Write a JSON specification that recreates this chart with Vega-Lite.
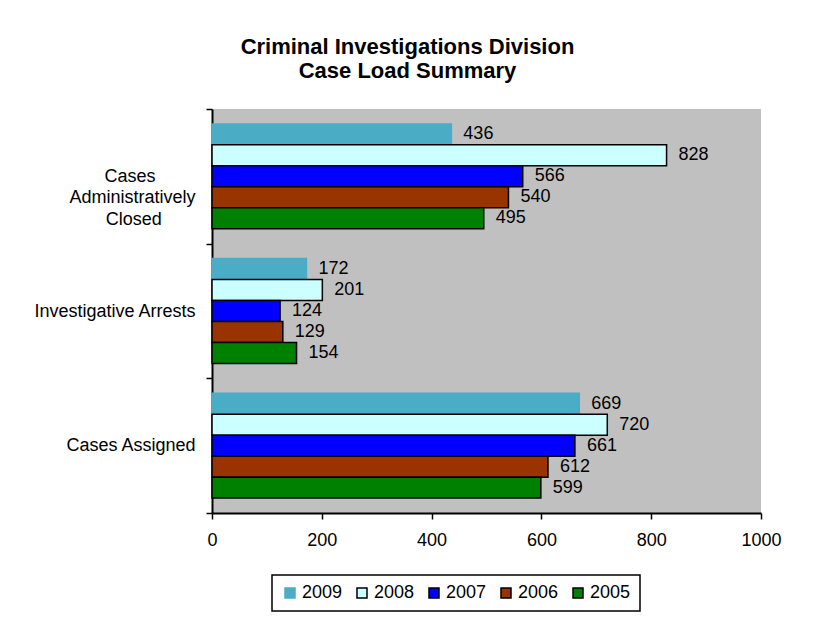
{
  "$schema": "https://vega.github.io/schema/vega-lite/v6.json",
  "autosize": {"type": "none"},
  "padding": {"left": 212, "top": 109, "right": 73, "bottom": 130},
  "width": 549,
  "height": 404,
  "background": "white",
  "title": {
    "text": ["Criminal Investigations Division", "Case Load Summary"],
    "font": "Liberation Sans",
    "fontSize": 22,
    "fontWeight": "bold",
    "lineHeight": 24,
    "anchor": "middle",
    "dx": -79,
    "offset": 17,
    "color": "black"
  },
  "data": {
    "values": [
      {"category": "Cases Administratively Closed", "year": "2009", "value": 436},
      {"category": "Cases Administratively Closed", "year": "2008", "value": 828},
      {"category": "Cases Administratively Closed", "year": "2007", "value": 566},
      {"category": "Cases Administratively Closed", "year": "2006", "value": 540},
      {"category": "Cases Administratively Closed", "year": "2005", "value": 495},
      {"category": "Investigative Arrests", "year": "2009", "value": 172},
      {"category": "Investigative Arrests", "year": "2008", "value": 201},
      {"category": "Investigative Arrests", "year": "2007", "value": 124},
      {"category": "Investigative Arrests", "year": "2006", "value": 129},
      {"category": "Investigative Arrests", "year": "2005", "value": 154},
      {"category": "Cases Assigned", "year": "2009", "value": 669},
      {"category": "Cases Assigned", "year": "2008", "value": 720},
      {"category": "Cases Assigned", "year": "2007", "value": 661},
      {"category": "Cases Assigned", "year": "2006", "value": 612},
      {"category": "Cases Assigned", "year": "2005", "value": 599}
    ]
  },
  "encoding": {
    "y": {
      "field": "category",
      "type": "nominal",
      "sort": ["Cases Administratively Closed", "Investigative Arrests", "Cases Assigned"],
      "scale": {"paddingInner": 0, "paddingOuter": 0},
      "axis": {
        "title": null,
        "tickBand": "extent",
        "tickSize": 6,
        "tickColor": "black",
        "tickWidth": 1.5,
        "domainColor": "black",
        "domainWidth": 2,
        "labelFont": "Liberation Sans",
        "labelFontSize": 18,
        "labelColor": "black",
        "labelPadding": 11,
        "labelLineHeight": 21.5,
        "labelLimit": 300,
        "labelExpr": "datum.value == 'Cases Administratively Closed' ? ['Cases\u2007\u2007\u2007\u2007\u200b', 'Administratively', 'Closed\u2007\u2007\u2007\u2009\u200b'] : datum.value"
      }
    },
    "yOffset": {
      "field": "year",
      "type": "nominal",
      "sort": ["2009", "2008", "2007", "2006", "2005"],
      "scale": {"paddingInner": 0, "paddingOuter": 0.71}
    },
    "x": {
      "field": "value",
      "type": "quantitative",
      "scale": {"domain": [0, 1000]},
      "axis": {
        "title": null,
        "values": [0, 200, 400, 600, 800, 1000],
        "format": "d",
        "grid": false,
        "tickSize": 6,
        "tickColor": "black",
        "tickWidth": 1.5,
        "domainColor": "black",
        "domainWidth": 2,
        "labelFont": "Liberation Sans",
        "labelFontSize": 18,
        "labelColor": "black",
        "labelPadding": 12,
        "labelFlush": false
      }
    }
  },
  "layer": [
    {
      "mark": {"type": "bar", "strokeWidth": 1.5},
      "encoding": {
        "color": {
          "field": "year",
          "type": "nominal",
          "scale": {"domain": ["2009", "2008", "2007", "2006", "2005"], "range": ["#4BACC6", "#CCFFFF", "#0000FF", "#993300", "#008000"]},
          "legend": {"title": null}
        },
        "stroke": {
          "field": "year",
          "type": "nominal",
          "scale": {"domain": ["2009", "2008", "2007", "2006", "2005"], "range": ["#4BACC6", "#000000", "#000000", "#000000", "#000000"]},
          "legend": {"title": null}
        }
      }
    },
    {
      "mark": {"type": "text", "align": "left", "baseline": "middle", "dx": 12, "font": "Liberation Sans", "fontSize": 18, "color": "black"},
      "encoding": {"text": {"field": "value", "type": "quantitative"}}
    }
  ],
  "config": {
    "view": {"fill": "#C0C0C0", "stroke": null},
    "legend": {
      "orient": "none",
      "legendX": 60,
      "legendY": 466,
      "direction": "horizontal",
      "symbolType": "square",
      "symbolSize": 100,
      "symbolStrokeWidth": 1.5,
      "labelFont": "Liberation Sans",
      "labelFontSize": 18,
      "labelColor": "black",
      "labelOffset": 3,
      "columnPadding": 10,
      "padding": 9,
      "strokeColor": "black",
      "strokeWidth": 1.5,
      "fillColor": "white"
    }
  }
}
